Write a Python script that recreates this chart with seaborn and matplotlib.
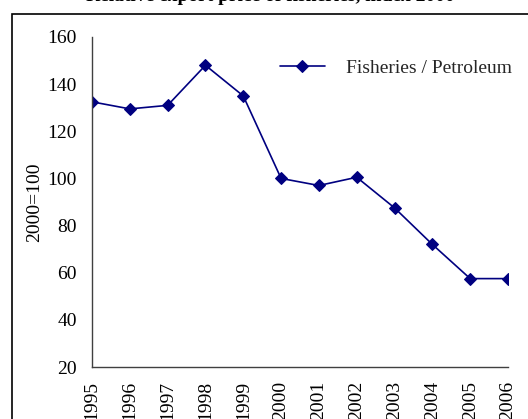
import matplotlib
matplotlib.use("Agg")
import matplotlib.pyplot as plt
from matplotlib.patches import Rectangle
import seaborn as sns
import pandas as pd

years = [1995, 1996, 1997, 1998, 1999, 2000, 2001, 2002, 2003, 2004, 2005, 2006]
index_values = [132.5, 129.5, 131.0, 148.0, 135.0, 100.0, 97.0, 100.5, 87.5, 72.0, 57.5, 57.5]
series_name = "Fisheries / Petroleum"
y_ticks = [20, 40, 60, 80, 100, 120, 140, 160]
title_text = "Relative export price of fisheries, index 2000"
y_label = "2000=100"

sns.set_theme(style="white")
plt.rcParams["font.family"] = ["Liberation Serif", "DejaVu Serif"]

W, H = 528, 419
fig = plt.figure(figsize=(W / 100, H / 100), dpi=100)
fig.patch.set_facecolor("white")

# chart frame (outer border)
fig.patches.append(Rectangle((12 / W, -0.1), 1.2, (H - 14) / H + 0.1,
                             transform=fig.transFigure, fill=False,
                             edgecolor="black", linewidth=1.2, zorder=0))

ax = fig.add_axes([92 / W, (H - 367) / H, (508 - 92) / W, (367 - 37) / H])
ax.set_facecolor("white")

df = pd.DataFrame({"year": years, "value": index_values, "series": series_name})
sns.lineplot(data=df, x="year", y="value", hue="series", palette=["#000080"],
             marker="D", markersize=6, markeredgecolor="#000080",
             linewidth=1.2, ax=ax, legend=True)

ax.set_xlim(years[0], years[-1])
ax.set_ylim(y_ticks[0], y_ticks[-1])
ax.set_xticks(years)
ax.set_xticklabels([str(y) for y in years], rotation=90, va="top")
ax.set_yticks(y_ticks)
ax.set_xlabel("")
ax.set_ylabel("")

for side in ["top", "right"]:
    ax.spines[side].set_visible(False)
for side in ["left", "bottom"]:
    ax.spines[side].set_color("#404040")
    ax.spines[side].set_linewidth(1.0)

ax.tick_params(axis="both", which="major", direction="out", length=4,
               width=1.0, color="#404040", labelsize=14, labelcolor="black")
ax.tick_params(axis="y", pad=7)
ax.tick_params(axis="x", pad=6)

fig.text(35 / W, 1 - 202 / H, y_label, rotation=90, ha="center", va="center",
         fontsize=14, color="black")

fig.text(270 / W, 1 - 0.7 / H, title_text, ha="center", va="baseline",
         fontsize=14, fontweight="bold", color="black")

handles, labels = ax.get_legend_handles_labels()
leg = ax.legend(handles, labels, loc="center left",
                bbox_to_anchor=(280 / W, 1 - 68 / H),
                bbox_transform=fig.transFigure, frameon=False,
                fontsize=14, handlelength=2.3, handletextpad=1.1,
                borderpad=0, borderaxespad=0)

fig.savefig("out.png", dpi=100)
